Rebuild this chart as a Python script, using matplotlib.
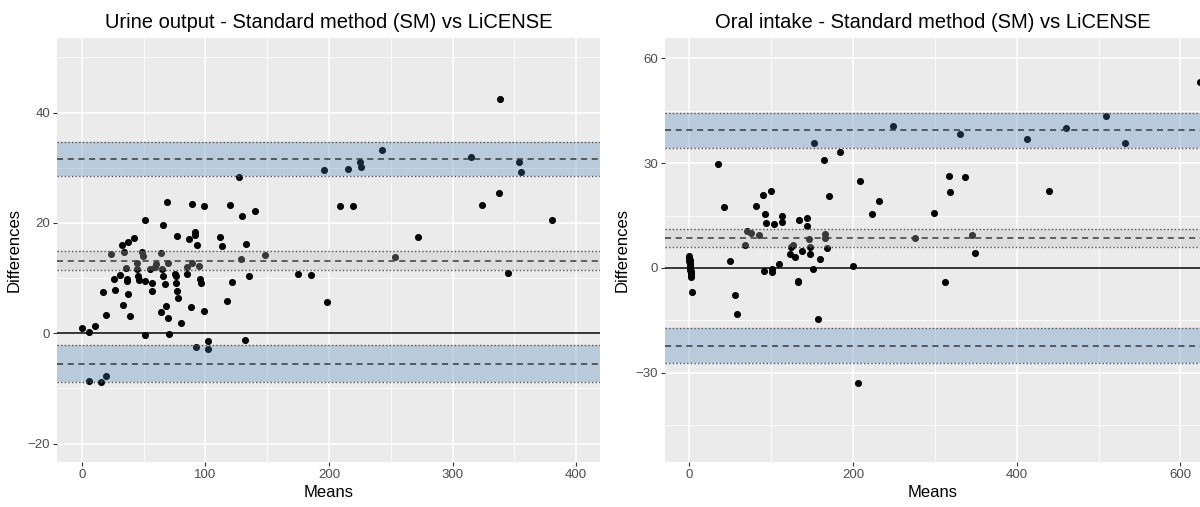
import matplotlib.pyplot as plt
from matplotlib.ticker import MultipleLocator

# ---- Urine output (left panel) ----
urine_means = [0, 5.9, 10.2, 5.9, 15.2, 19.8, 19.8, 16.7, 23.5, 26, 26.9, 30.7, 32.8,
               33.7, 33.4, 35.6, 36.2, 36.5, 37.2, 37.2, 39.3, 41.8, 44.6, 44.9, 45.5,
               46.1, 48.6, 49.2, 51.1, 51.1, 51.1, 54.8, 56.7, 56.7, 59.1, 60, 64.1,
               64.1, 65, 65.9, 65.9, 66.9, 68.4, 68.7, 69.7, 69.7, 70.6, 75.2, 75.9,
               75.9, 76.8, 76.8, 77.7, 79.9, 84.8, 85.4, 87, 87.9, 88.9, 89.2, 91.6,
               91.6, 92, 92.9, 94.4, 95.7, 96.3, 99.1, 99.1, 101.9, 101.9, 112.1, 113,
               117.6, 119.5, 121.4, 126.9, 129.1, 129.4, 131.6, 132.5, 135.3, 139.9,
               148.3, 175.2, 185.4, 195.7, 198.1, 209.3, 215.5, 219.5, 225.1, 226,
               243.3, 253.6, 272.1, 314.9, 323.8, 337.8, 338.7, 345.2, 354.2, 355.1, 380.2]
urine_diffs = [1.0, 0.2, 1.4, -8.7, -8.9, -7.7, 3.3, 7.5, 14.3, 9.9, 7.8, 10.5, 16.0,
               14.7, 5.2, 11.8, 9.8, 9.5, 16.6, 7.2, 3.1, 17.2, 12.8, 11.6, 10.4,
               9.7, 14.7, 14.0, 20.5, 9.5, -0.4, 11.6, 9.2, 7.7, 12.1, 12.5, 14.5,
               3.9, 11.7, 19.6, 10.4, 8.9, 5.0, 23.8, 12.8, 2.7, -0.2, 10.8, 10.4,
               9.1, 17.6, 7.7, 6.4, 1.9, 12.1, 10.8, 17.0, 4.8, 12.8, 23.4, 18.3,
               17.8, -2.5, 16.0, 12.2, 9.8, 9.1, 23.0, 4.1, -1.4, -2.9, 17.5, 15.9,
               5.8, 23.2, 9.3, 28.3, 13.4, 21.3, -1.3, 16.1, 10.4, 22.1,
               14.2, 10.8, 10.5, 29.6, 5.6, 23.1, 29.8, 23.1, 31.0, 30.2,
               33.3, 13.9, 17.4, 32.0, 23.2, 25.4, 42.4, 11.0, 31.0, 29.2, 20.5]
# limits of agreement: (lower CI, estimate, upper CI)
urine_upper = (28.5, 31.6, 34.7)
urine_bias = (11.5, 13.1, 14.9)
urine_lower = (-8.9, -5.6, -2.2)

# ---- Oral intake (right panel) ----
oral_means = [-0.5, 0, 0.5, -0.3, 0.8, 1.0, 0.2, 1.2, 0.6, 1.5, 1.8, 2.2, 2.5, 3.3,
              35.6, 42.6, 49.6, 55.3, 58.1, 67.4, 70.3, 75.4, 81, 85.7, 89.5, 91.3,
              92.7, 93.7, 99.3, 100.7, 101.2, 104, 109.1, 113.3, 113.3, 123.2, 123.7,
              126.9, 128.8, 132.6, 133, 134, 138.2, 143.8, 143.8, 146.6, 147.5, 148,
              150.8, 152.7, 157.8, 159.3, 164.9, 165.8, 166.3, 167.7, 170.5, 184.1,
              199.5, 206.6, 208, 223, 231.4, 249.2, 275.9, 298.4, 311.9, 317.6, 319,
              331.1, 337.2, 345.2, 348.5, 412.2, 439.8, 460.4, 509.6, 532.6, 623.4]
oral_diffs = [3.4, 2.9, 2.4, 1.9, 1.4, 0.9, 0.5, 0.0, -0.5, -1.0, -1.5, -2.1, -2.6, -6.9,
              29.7, 17.3, 1.9, -7.8, -13.1, 6.5, 10.5, 9.9, 17.6, 9.4, 20.8, -1.0,
              15.3, 13.0, 22.1, -0.4, -1.3, 12.6, 1.2, 15.0, 13.2, 3.9, 6.0,
              6.5, 3.0, -3.6, -4.0, 13.7, 4.9, 14.3, 12.0, 8.2, 6.0, 3.9,
              -0.4, 35.9, -14.7, 2.6, 31.0, 9.6, 8.7, 5.8, 20.5, 33.3,
              0.7, -33.0, 24.8, 15.3, 19.2, 40.7, 8.5, 15.6, -3.9, 26.4, 21.8,
              38.4, 26.0, 9.4, 4.2, 36.8, 22.1, 40.1, 43.4, 35.9, 53.1]
oral_upper = (34.2, 39.4, 44.3)
oral_bias = (6.0, 8.6, 11.2)
oral_lower = (-27.3, -22.4, -17.3)

BG = "#EBEBEB"


def bland_altman(ax, means, diffs, upper, bias, lower, title, xlim, ylim,
                 xmajor, ymajor):
    ax.set_facecolor(BG)
    for s in ax.spines.values():
        s.set_visible(False)

    ax.scatter(means, diffs, s=26, color="black", linewidths=0, zorder=2)
    ax.axhline(0, color="black", lw=1.1, zorder=1.5)

    # bands drawn over the points, like geom_rect after geom_point
    for (lo, mid, hi), col in [(upper, "steelblue"), (bias, "#BEBEBE"),
                               (lower, "steelblue")]:
        ax.axhspan(lo, hi, color=col, alpha=0.3, lw=0, zorder=3)
        ax.axhline(mid, color="#3A3A3A", lw=1.1, ls=(0, (4, 3)), zorder=4)
        for v in (lo, hi):
            ax.axhline(v, color="#555555", lw=1.0, ls=(0, (1, 1.6)), zorder=4)

    ax.set_xlim(*xlim)
    ax.set_ylim(*ylim)
    ax.xaxis.set_major_locator(MultipleLocator(xmajor))
    ax.xaxis.set_minor_locator(MultipleLocator(xmajor / 2))
    ax.yaxis.set_major_locator(MultipleLocator(ymajor))
    ax.yaxis.set_minor_locator(MultipleLocator(ymajor / 2))
    ax.grid(which="major", color="white", lw=1.1, zorder=0)
    ax.grid(which="minor", color="white", lw=0.55, zorder=0)
    ax.set_axisbelow(True)
    ax.tick_params(which="major", length=3, width=0.8, color="#333333",
                   labelcolor="#4D4D4D", labelsize=9.5, pad=2)
    ax.tick_params(which="minor", length=0)

    ax.set_xlabel("Means", fontsize=12, labelpad=3)
    ax.set_ylabel("Differences", fontsize=12, labelpad=4)
    ax.set_title(title, fontsize=14.5, pad=7)


plt.rcParams["font.family"] = ["Liberation Sans", "DejaVu Sans"]

fig = plt.figure(figsize=(12, 5.07), dpi=100)
ax1 = fig.add_axes([0.0475, 0.089, 0.4525, 0.836])
ax2 = fig.add_axes([0.554, 0.089, 0.446, 0.836])

bland_altman(ax1, urine_means, urine_diffs, urine_upper, urine_bias, urine_lower,
             "Urine output - Standard method (SM) vs LiCENSE",
             (-20.2, 419.4), (-23.3, 53.5), 100, 20)
bland_altman(ax2, oral_means, oral_diffs, oral_upper, oral_bias, oral_lower,
             "Oral intake - Standard method (SM) vs LiCENSE",
             (-30, 624), (-55.5, 65.8), 200, 30)

fig.savefig("out.png", dpi=100)
